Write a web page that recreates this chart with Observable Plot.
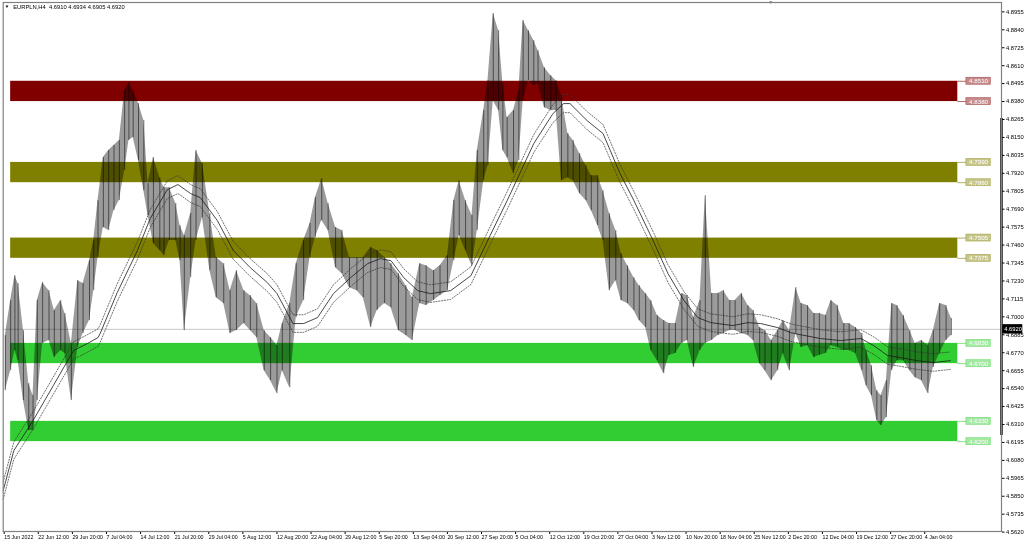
<!DOCTYPE html>
<html>
<head>
<meta charset="utf-8">
<script src="https://cdn.jsdelivr.net/npm/d3@7"></script>
<script src="https://cdn.jsdelivr.net/npm/@observablehq/plot@0.6"></script>
<style>
  html, body { margin: 0; padding: 0; background: #fff; }
  #chart svg { display: block; }
</style>
</head>
<body>
<div id="chart"></div>
<script>
// ---------- DATA ----------
const title = "EURPLN,H4  4.6910 4.6934 4.6905 4.6920";
const lastPrice = 4.6920;

// H4 bar index of each sample (label every 32 bars), with high and low of the bars around it
const bars  = [2,7,11,14,19,24,28,32,37,43,48,54,58,64,70,75,81,85,89,94,99,104,109,114,118,122,127,132,136,141,147,151,156,162,166,170,176,181,187,194,200,207,213,219,226,232,238,245,251,257,262,269,275,282,288,293,299,305,312,318,325,332,338,345,351,358,364,371,378,384,391,397,404,410,417,423,428,434,440,445,451,455,460,465,469,473,479,484,488,493,498,502,508,514,519,524,530,535,541,547,552,558,563,569,575,580,586,592,597,603,608,614,620,625,631,637,642,648,654,659,665,671,676,682,687,693,699,704,710,715,721,727,732,738,744,749,755,761,766,772,777,783,789,794,800,806,810,815,820,824,829,834,839,845,851,856,862,868,873,879,885,890];
const highs = [4.6880,4.7104,4.7264,4.7213,4.6912,4.6572,4.6495,4.7104,4.7219,4.7168,4.7040,4.7104,4.7021,4.6829,4.7232,4.7213,4.7360,4.7489,4.7745,4.8021,4.8066,4.8098,4.8130,4.8450,4.8501,4.8450,4.8367,4.8258,4.7854,4.8021,4.7892,4.7828,4.7828,4.7726,4.7585,4.7521,4.7662,4.8066,4.7982,4.7662,4.7380,4.7341,4.7168,4.7296,4.7168,4.7136,4.7085,4.6912,4.6867,4.6816,4.6957,4.7085,4.7341,4.7489,4.7598,4.7764,4.7886,4.7726,4.7572,4.7553,4.7380,4.7380,4.7380,4.7444,4.7425,4.7380,4.7341,4.7277,4.7200,4.7123,4.7341,4.7328,4.7296,4.7328,4.7393,4.7745,4.7873,4.7745,4.7649,4.8066,4.8322,4.8514,4.8944,4.8835,4.8495,4.8277,4.8322,4.8450,4.8899,4.8835,4.8771,4.8707,4.8597,4.8546,4.8514,4.8418,4.8175,4.8130,4.8047,4.7969,4.7905,4.7905,4.7809,4.7662,4.7553,4.7406,4.7328,4.7251,4.7200,4.7149,4.7104,4.7008,4.6976,4.6957,4.6957,4.7149,4.7136,4.6995,4.7104,4.7777,4.7149,4.7149,4.7168,4.7104,4.7104,4.7149,4.7072,4.7040,4.6931,4.6912,4.6848,4.6912,4.6976,4.6912,4.7187,4.7085,4.7072,4.7021,4.7021,4.7008,4.7104,4.7072,4.6957,4.6957,4.6931,4.6893,4.6784,4.6687,4.6527,4.6495,4.6591,4.7085,4.7072,4.7008,4.6912,4.6829,4.6848,4.6816,4.6912,4.7085,4.7072,4.6989];
const lows  = [4.6527,4.6655,4.6784,4.6719,4.6463,4.6271,4.6271,4.6463,4.6829,4.6848,4.6739,4.6784,4.6765,4.6463,4.6803,4.6893,4.6976,4.7168,4.7380,4.7572,4.7553,4.7681,4.7745,4.7937,4.8130,4.8149,4.8001,4.7809,4.7649,4.7470,4.7425,4.7393,4.7489,4.7489,4.7360,4.6912,4.7251,4.7489,4.7636,4.7296,4.7123,4.7085,4.6893,4.6912,4.6957,4.6912,4.6867,4.6655,4.6591,4.6508,4.6655,4.6546,4.6995,4.7104,4.7380,4.7508,4.7617,4.7553,4.7315,4.7277,4.7187,4.7168,4.7123,4.6931,4.7040,4.7085,4.7059,4.6912,4.6880,4.6848,4.7085,4.7072,4.7104,4.7136,4.7168,4.7360,4.7521,4.7425,4.7328,4.7553,4.7873,4.7969,4.8386,4.8322,4.8066,4.8021,4.7918,4.8001,4.8386,4.8514,4.8482,4.8495,4.8341,4.8322,4.8322,4.7873,4.7892,4.7873,4.7790,4.7745,4.7681,4.7585,4.7489,4.7168,4.7232,4.7104,4.7085,4.7040,4.6976,4.6931,4.6784,4.6719,4.6636,4.6752,4.6765,4.6829,4.6848,4.6675,4.6784,4.6829,4.6848,4.6880,4.6893,4.6912,4.6912,4.6893,4.6880,4.6848,4.6700,4.6655,4.6591,4.6655,4.6765,4.6655,4.6893,4.6803,4.6816,4.6739,4.6752,4.6765,4.6816,4.6803,4.6784,4.6784,4.6765,4.6655,4.6559,4.6495,4.6335,4.6303,4.6354,4.6655,4.6719,4.6719,4.6655,4.6610,4.6591,4.6508,4.6675,4.6765,4.6848,4.6880];

// moving average
const maBars = [0,10,28,47,66,79,89,91,107,126,138,154,164,176,185,201,216,232,248,257,267,272,282,295,310,326,342,354,364,376,389,401,420,439,457,473,498,516,526,532,548,563,579,592,610,624,639,652,664,685,699,711,727,739,748,767,786,805,817,830,842,858,873,889];
const maVals = [4.5886,4.6143,4.6335,4.6559,4.6784,4.6829,4.6867,4.6893,4.7155,4.7425,4.7630,4.7815,4.7848,4.7790,4.7764,4.7617,4.7425,4.7315,4.7219,4.7149,4.7021,4.6957,4.6957,4.6995,4.7149,4.7251,4.7341,4.7373,4.7360,4.7251,4.7168,4.7149,4.7168,4.7264,4.7521,4.7745,4.8111,4.8303,4.8367,4.8367,4.8258,4.8175,4.7918,4.7745,4.7489,4.7277,4.7104,4.6995,4.6963,4.6944,4.6963,4.6957,4.6931,4.6899,4.6886,4.6861,4.6848,4.6861,4.6816,4.6752,4.6739,4.6719,4.6707,4.6719];
const envelopeDeviation = 0.0012; // envelope band, fraction of the MA

// support / resistance zones
const zoneTops    = [4.8510, 4.7990, 4.7505, 4.6830, 4.6330];
const zoneBottoms = [4.8380, 4.7860, 4.7375, 4.6700, 4.6200];
const zoneColors  = ["#800000", "#808000", "#808000", "#32cd32", "#32cd32"];
const zoneStartBar = 7, zoneEndBar = 896;

// axes
const yTicks = [4.8955,4.8840,4.8725,4.8610,4.8495,4.8380,4.8265,4.8150,4.8035,4.7920,4.7805,4.7690,4.7575,4.7460,4.7345,4.7230,4.7115,4.7000,4.6885,4.6770,4.6655,4.6540,4.6425,4.6310,4.6195,4.6080,4.5965,4.5850,4.5735,4.5620];
const xTickLabels = ["15 Jun 2022","22 Jun 12:00","29 Jun 20:00","7 Jul 04:00","14 Jul 12:00","21 Jul 20:00","29 Jul 04:00","5 Aug 12:00","12 Aug 20:00","22 Aug 04:00","29 Aug 12:00","5 Sep 20:00","13 Sep 04:00","20 Sep 12:00","27 Sep 20:00","5 Oct 04:00","12 Oct 12:00","19 Oct 20:00","27 Oct 04:00","3 Nov 12:00","10 Nov 20:00","18 Nov 04:00","25 Nov 12:00","2 Dec 20:00","12 Dec 04:00","19 Dec 12:00","27 Dec 20:00","4 Jan 04:00"];
const barsPerLabel = 32;

// ---------- BUILD ----------
const price = bars.map((b, i) => ({bar: b, hi: highs[i], lo: lows[i]}));
const ma = maBars.map((b, i) => ({bar: b, v: maVals[i]}));
const zones = zoneTops.map((t, i) => ({top: t, bottom: zoneBottoms[i], color: zoneColors[i]}));
const levels = zones.flatMap(z => [{p: z.top, color: z.color}, {p: z.bottom, color: z.color}]);
const xTicks = xTickLabels.map((_, i) => i * barsPerLabel);
const xLabelOf = new Map(xTicks.map((t, i) => [t, xTickLabels[i]]));
const xMax = 937;
const labelHalf = 0.00225;

const font = "Liberation Sans, Arial, sans-serif";

const chart = Plot.plot({
  width: 1024,
  height: 544,
  marginLeft: 2.7,
  marginRight: 23,
  marginTop: 2,
  marginBottom: 13,
  style: {fontFamily: font, fontSize: "6px", background: "#fff", color: "#000"},
  x: {domain: [0, xMax], axis: null},
  y: {domain: [4.5624, 4.9015], axis: null},
  marks: [
    Plot.ruleY([lastPrice], {stroke: "#c8c8c8", strokeWidth: 1}),
    Plot.rect(zones, {x1: zoneStartBar, x2: zoneEndBar, y1: "bottom", y2: "top", fill: "color"}),
    Plot.areaY(price, {x: "bar", y1: "lo", y2: "hi", fill: "#8a8a8a", fillOpacity: 0.85, mixBlendMode: "multiply"}),
    Plot.ruleX(price, {x: "bar", y1: "lo", y2: "hi", stroke: "#7a7a7a", strokeWidth: 1, mixBlendMode: "multiply"}),
    Plot.line(ma, {x: "bar", y: "v", stroke: "#1a1a1a", strokeWidth: 0.8}),
    Plot.line(ma, {x: "bar", y: d => d.v * (1 + envelopeDeviation), stroke: "#333", strokeWidth: 0.7, strokeDasharray: "1.2,1.6"}),
    Plot.line(ma, {x: "bar", y: d => d.v * (1 - envelopeDeviation), stroke: "#333", strokeWidth: 0.7, strokeDasharray: "1.2,1.6"}),
    // zone price labels
    Plot.ruleY(levels, {y: "p", x1: zoneEndBar, x2: zoneEndBar + 8, stroke: "color", strokeOpacity: 0.6}),
    Plot.rect(levels, {x1: zoneEndBar + 8, x2: zoneEndBar + 31, y1: d => d.p - labelHalf, y2: d => d.p + labelHalf,
      fill: "color", fillOpacity: 0.45, stroke: "color", strokeOpacity: 0.5, strokeWidth: 0.7}),
    Plot.text(levels, {x: zoneEndBar + 19.5, y: "p", text: d => d.p.toFixed(4), fill: "#fff", fontSize: 6.2}),
    // axes
    Plot.axisY({anchor: "right", label: null, ticks: yTicks, tickFormat: d => d.toFixed(4), tickSize: 2.5, tickPadding: 2, fontSize: 5.8, textAnchor: "start"}),
    Plot.axisX({anchor: "bottom", label: null, ticks: xTicks, tickFormat: d => xLabelOf.get(d), tickSize: 3, tickPadding: 1, fontSize: 5.3, textAnchor: "start", dx: 1}),
    Plot.ruleX([xMax], {y1: 4.6239, y2: 4.8271, stroke: "#000", strokeWidth: 2.4}),
    Plot.rect([lastPrice], {x1: xMax + 0.3, x2: xMax + 20, y1: d => d - 0.0030, y2: d => d + 0.0030, fill: "#000"}),
    Plot.text([lastPrice], {x: xMax + 2.5, y: d => d, text: d => d.toFixed(4), fill: "#fff", fontSize: 5.8, textAnchor: "start"}),
    Plot.frame({stroke: "#808080", strokeWidth: 1.2}),
    Plot.text([title], {frameAnchor: "top-left", dx: 10, dy: 2, text: d => d, fontSize: 5.8, lineAnchor: "top", textAnchor: "start", fill: "#000"}),
    Plot.text(["▼"], {frameAnchor: "top-left", dx: 1.5, dy: 2.5, text: d => d, fontSize: 4.5, lineAnchor: "top", textAnchor: "start", fill: "#000"}),
    Plot.text(["▼"], {frameAnchor: "top-left", dx: 765, dy: -2.5, text: d => d, fontSize: 5, lineAnchor: "top", textAnchor: "start", fill: "#808080"})
  ]
});
document.getElementById("chart").appendChild(chart);
</script>
</body>
</html>
